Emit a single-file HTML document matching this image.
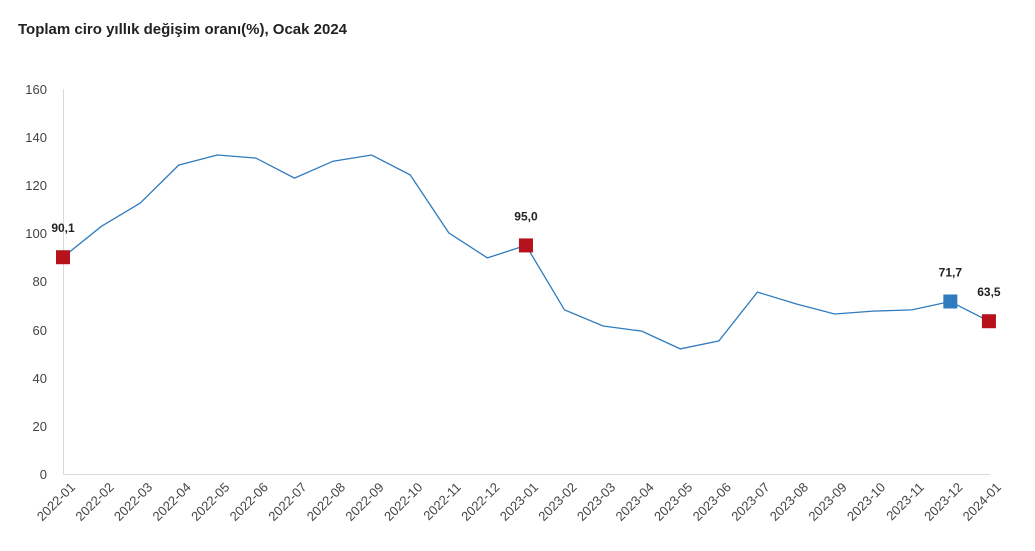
<!DOCTYPE html>
<html><head><meta charset="utf-8"><style>
body{margin:0;background:#fff;width:1035px;height:546px;overflow:hidden;font-family:"Liberation Sans",sans-serif}
</style></head><body>
<svg width="1035" height="546" xmlns="http://www.w3.org/2000/svg" font-family="Liberation Sans, sans-serif">
<text x="18" y="34" font-size="15" font-weight="bold" fill="#222">Toplam ciro yıllık değişim oranı(%), Ocak 2024</text>
<g stroke="#d9d9d9" stroke-width="1">
<line x1="63.5" y1="89" x2="63.5" y2="474"/>
<line x1="63" y1="474.5" x2="990" y2="474.5"/>
</g>
<g font-size="13" fill="#444" text-anchor="end">
<text x="47" y="479">0</text><text x="47" y="431">20</text><text x="47" y="383">40</text><text x="47" y="335">60</text><text x="47" y="286">80</text><text x="47" y="238">100</text><text x="47" y="190">120</text><text x="47" y="142">140</text><text x="47" y="94">160</text>
</g>
<g id="xl" font-size="13" fill="#444" text-anchor="end"></g>
<polyline id="ln" fill="none" stroke="#2e7bbf" stroke-width="1.3"/>
<g id="mk"></g>
</svg>
<script>
var d=[90.1,103,112.6,128.4,132.6,131.3,123,130,132.6,124.3,100.2,89.8,95.0,68.2,61.5,59.4,52,55.3,75.6,70.7,66.5,67.7,68.2,71.7,63.5];
var ns="http://www.w3.org/2000/svg";
function X(i){return 63+i*38.58}function Y(v){return 474-v*2.406}
var pts=d.map(function(v,i){return X(i).toFixed(1)+","+Y(v).toFixed(1)}).join(" ");
document.getElementById("ln").setAttribute("points",pts);
var xl=document.getElementById("xl");
for(var i=0;i<25;i++){var y=2022+Math.floor(i/12),m=i%12+1;var t=document.createElementNS(ns,"text");
var x=X(i)+13,yy=488;t.setAttribute("x",x);t.setAttribute("y",yy);t.setAttribute("transform","rotate(-45 "+x+" "+yy+")");
t.textContent=y+"-"+(m<10?"0":"")+m;xl.appendChild(t);}
var mk=document.getElementById("mk");
[[0,"#b5121b","90,1"],[12,"#b5121b","95,0"],[23,"#2e7bbf","71,7"],[24,"#b5121b","63,5"]].forEach(function(a){
var x=X(a[0]),y=Y(d[a[0]]);var r=document.createElementNS(ns,"rect");
r.setAttribute("x",x-7);r.setAttribute("y",y-7);r.setAttribute("width",14);r.setAttribute("height",14);r.setAttribute("fill",a[1]);mk.appendChild(r);
var t=document.createElementNS(ns,"text");t.setAttribute("x",x);t.setAttribute("y",y-25);t.setAttribute("font-size","12");t.setAttribute("font-weight","bold");t.setAttribute("text-anchor","middle");t.setAttribute("fill","#222");t.textContent=a[2];mk.appendChild(t);});
</script>
</body></html>
